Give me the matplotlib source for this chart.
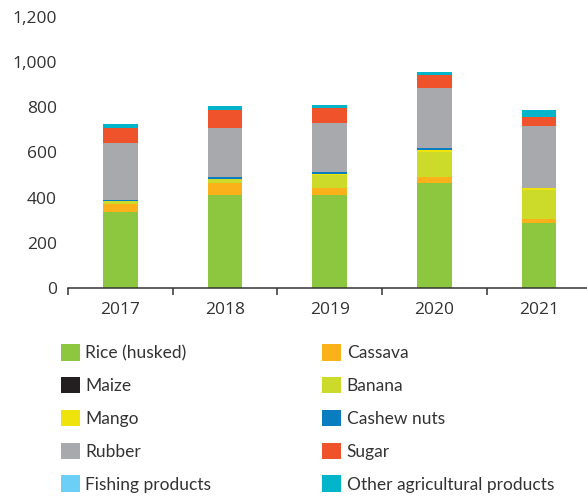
import numpy as np
import matplotlib
matplotlib.use("Agg")
import matplotlib.pyplot as plt
from matplotlib.patches import Patch

# Export values by year (estimated from the reference chart)
years = ["2017", "2018", "2019", "2020", "2021"]
rice = [337, 414, 414, 463, 286]
cassava = [37, 49, 31, 29, 20]
maize = [0, 0, 0, 0, 0]
banana = [11, 19, 57, 110, 128]
mango = [0, 0, 3, 8, 9]
cashew = [3, 8, 8, 10, 2]
rubber = [252, 220, 216, 267, 274]
sugar = [68, 78, 70, 56, 38]
fishing = [0, 0, 0, 0, 0]
other = [20, 19, 10, 12, 30]

series_names = ["Rice (husked)", "Cassava", "Maize", "Banana", "Mango",
                "Cashew nuts", "Rubber", "Sugar", "Fishing products",
                "Other agricultural products"]
series_values = [rice, cassava, maize, banana, mango, cashew, rubber, sugar,
                 fishing, other]
colors = ["#8DC63F", "#FBB11A", "#231F20", "#CCDB2A", "#EEE30A",
          "#0A7DC0", "#A7A9AC", "#EE532B", "#6BCFF6", "#00B5C9"]

text_color = "#333333"

fig = plt.figure(figsize=(5.87, 4.96), dpi=100)
ax = fig.add_axes([68 / 587, 208 / 496, 523.5 / 587, 271 / 496])

x = np.arange(len(years))
bottom = np.zeros(len(years))
for vals, col in zip(series_values, colors):
    ax.bar(x, vals, width=0.33, bottom=bottom, color=col, edgecolor="none")
    bottom += np.array(vals)

ax.set_xlim(-0.5, 4.5)
ax.set_ylim(0, 1200)
ax.set_yticks(range(0, 1201, 200))
ax.yaxis.set_major_formatter(matplotlib.ticker.StrMethodFormatter("{x:,.0f}"))
ax.set_xticks(x)
ax.set_xticklabels(years)
ax.set_xticks(np.arange(-0.5, 5, 1), minor=True)

for s in ["top", "right", "left"]:
    ax.spines[s].set_visible(False)
ax.spines["bottom"].set_color(text_color)
ax.spines["bottom"].set_linewidth(1.1)

ax.tick_params(axis="y", length=0, pad=8, labelsize=12.5, labelcolor=text_color)
ax.tick_params(axis="x", which="major", length=0, pad=10, labelsize=12.5,
               labelcolor=text_color)
ax.tick_params(axis="x", which="minor", length=5, width=1.1, color=text_color)
for lbl in ax.get_xticklabels() + ax.get_yticklabels():
    lbl.set_fontfamily("Open Sans")

# Legend: two columns, row-major order like the reference
handles = [Patch(facecolor=c, edgecolor="none", label=n)
           for n, c in zip(series_names, colors)]
order = list(range(0, 10, 2)) + list(range(1, 10, 2))
leg = fig.legend([handles[i] for i in order], [series_names[i] for i in order],
                 ncol=2, loc="upper left", bbox_to_anchor=(54 / 587, 1 - 337 / 496),
                 frameon=False, prop={"family": "Lato", "size": 12.5},
                 handlelength=1.1, handleheight=1.1, handletextpad=0.3,
                 labelspacing=0.9, columnspacing=6.4, borderaxespad=0)
for t in leg.get_texts():
    t.set_color(text_color)

fig.savefig("out.png", dpi=100)
